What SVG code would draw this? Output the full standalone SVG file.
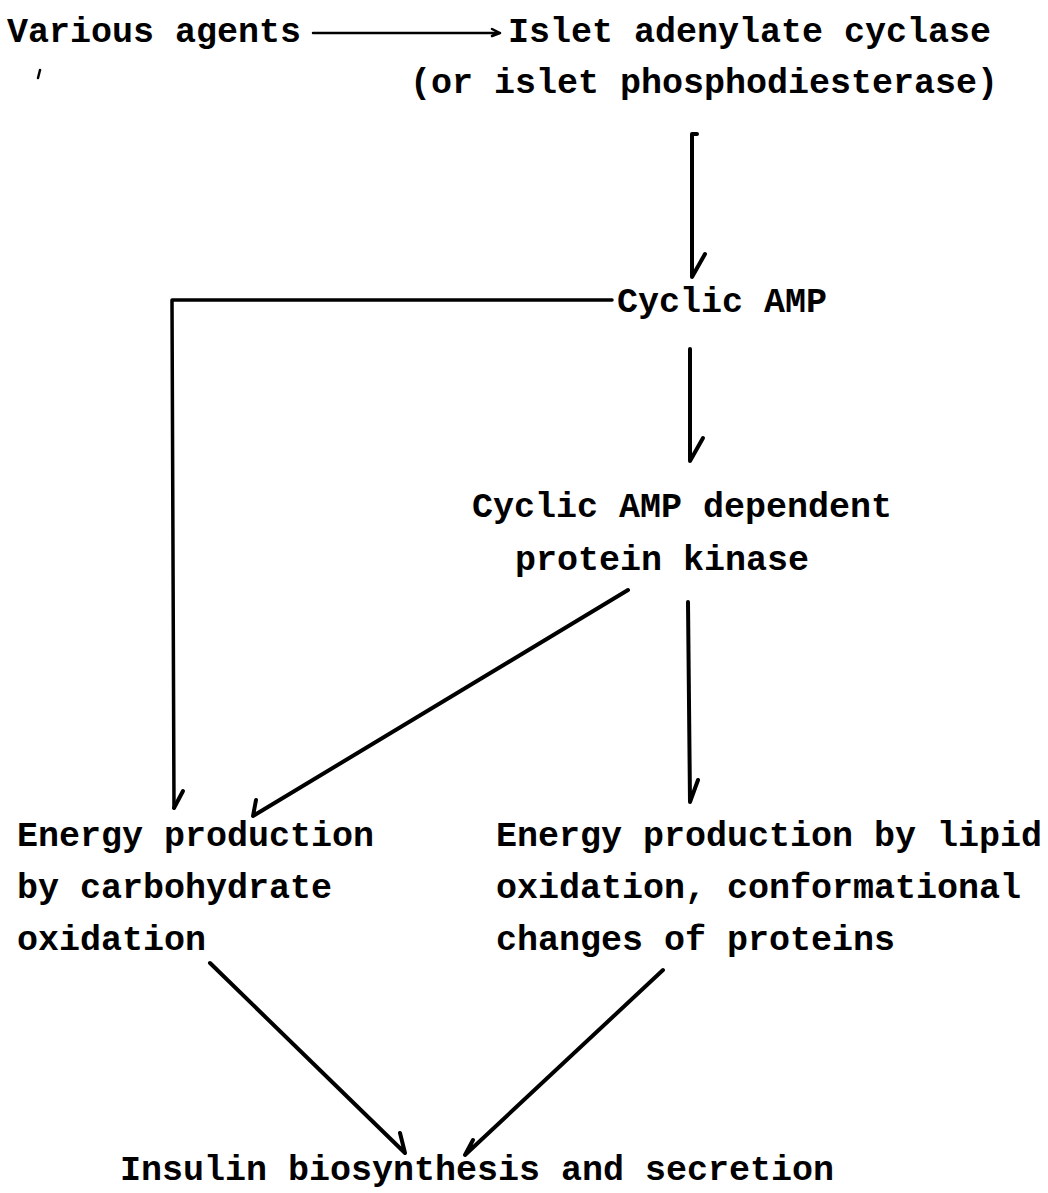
<svg xmlns="http://www.w3.org/2000/svg" width="1048" height="1193" viewBox="0 0 1048 1193">
<style>
text { font-family: "Liberation Mono", "DejaVu Sans Mono", monospace; font-weight: bold; font-size: 35px; fill: #000; }
.ln { fill: none; stroke: #000; stroke-width: 4; stroke-linecap: round; stroke-linejoin: round; }
.thin { fill: none; stroke: #000; stroke-width: 2.5; stroke-linecap: round; stroke-linejoin: round; }
</style>
<rect width="1048" height="1193" fill="#fff"/>
<g id="agents"><text x="7" y="42">Various agents</text></g>
<g id="cyclase"><text x="508" y="42">Islet adenylate cyclase</text><text x="410" y="93">(or islet phosphodiesterase)</text></g>
<g id="camp"><text x="617" y="312">Cyclic AMP</text></g>
<g id="kinase"><text x="472" y="517">Cyclic AMP dependent</text><text x="515" y="570">protein kinase</text></g>
<g id="carb"><text x="17" y="846">Energy production</text><text x="17" y="898">by carbohydrate</text><text x="17" y="950">oxidation</text></g>
<g id="lipid"><text x="496" y="846">Energy production by lipid</text><text x="496" y="898">oxidation, conformational</text><text x="496" y="950">changes of proteins</text></g>
<g id="insulin"><text x="120" y="1180">Insulin biosynthesis and secretion</text></g>
<g id="connectors">
<path class="thin" d="M313 33 H500 M500 33 L492 29 M500 33 L492 36"/>
<path class="ln" d="M697 134 L692 134 L692 277 L705 254"/>
<path class="ln" d="M690 349 L690 461 L703 438"/>
<path class="thin" d="M612 300 H172 L174 808" style="stroke-width:3.5"/>
<path class="ln" d="M174 808 L183 791"/>
<path class="ln" d="M628 590 L253 816 L256 800"/>
<path class="ln" d="M688 602 L690 802 L698 780"/>
<path class="ln" d="M210 963 L405 1153 L400 1133"/>
<path class="ln" d="M663 970 L465 1155 L473 1140"/>
<path class="thin" d="M40 70 L38 78"/>
</g>
</svg>
